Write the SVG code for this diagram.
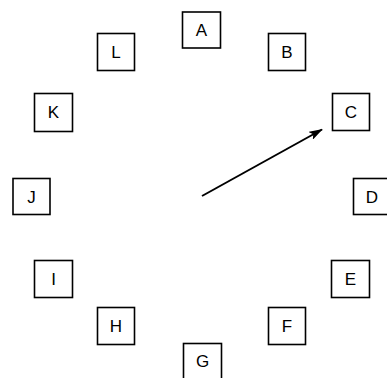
<svg xmlns="http://www.w3.org/2000/svg" width="387" height="378" viewBox="0 0 387 378">
<style>
.b{fill:#fff;stroke:#000;stroke-width:1.6}
.t{font-family:"Liberation Sans",Arial,sans-serif;font-size:17px;text-anchor:middle;fill:#000}
</style>
<defs>
<marker id="ah" viewBox="0 0 14 9" refX="13" refY="4.5" markerWidth="14" markerHeight="9" markerUnits="userSpaceOnUse" orient="auto"><path d="M0,0 L14,4.5 L0,9 L3,4.5 z" fill="#000"/></marker>
</defs>
<rect width="387" height="378" fill="#fff"/>
<g id="A"><rect class="b" x="182.5" y="12" width="38" height="36"/><text class="t" x="201.5" y="36">A</text></g>
<g id="B"><rect class="b" x="268.5" y="33.5" width="37" height="37"/><text class="t" x="287" y="58">B</text></g>
<g id="C"><rect class="b" x="332.5" y="93.5" width="37" height="37"/><text class="t" x="351" y="118">C</text></g>
<g id="D"><rect class="b" x="353.5" y="178.5" width="38" height="36"/><text class="t" x="372" y="202.5">D</text></g>
<g id="E"><rect class="b" x="331.5" y="260.5" width="38" height="37"/><text class="t" x="350.5" y="285">E</text></g>
<g id="F"><rect class="b" x="268.5" y="307.5" width="37" height="37"/><text class="t" x="287" y="332">F</text></g>
<g id="G"><rect class="b" x="183.5" y="343.5" width="38" height="38"/><text class="t" x="202.5" y="367">G</text></g>
<g id="H"><rect class="b" x="97.5" y="307.5" width="37" height="37"/><text class="t" x="116" y="332">H</text></g>
<g id="I"><rect class="b" x="34.5" y="260.5" width="38" height="37"/><text class="t" x="53.5" y="285">I</text></g>
<g id="J"><rect class="b" x="13" y="178.5" width="37" height="36"/><text class="t" x="31.5" y="202.5">J</text></g>
<g id="K"><rect class="b" x="34.5" y="93.5" width="38" height="38"/><text class="t" x="53.5" y="118">K</text></g>
<g id="L"><rect class="b" x="97.5" y="33.5" width="37" height="37"/><text class="t" x="116" y="58">L</text></g>
<g id="connectors"><line x1="202" y1="196" x2="322" y2="129.5" stroke="#000" stroke-width="2" marker-end="url(#ah)"/></g>
</svg>
